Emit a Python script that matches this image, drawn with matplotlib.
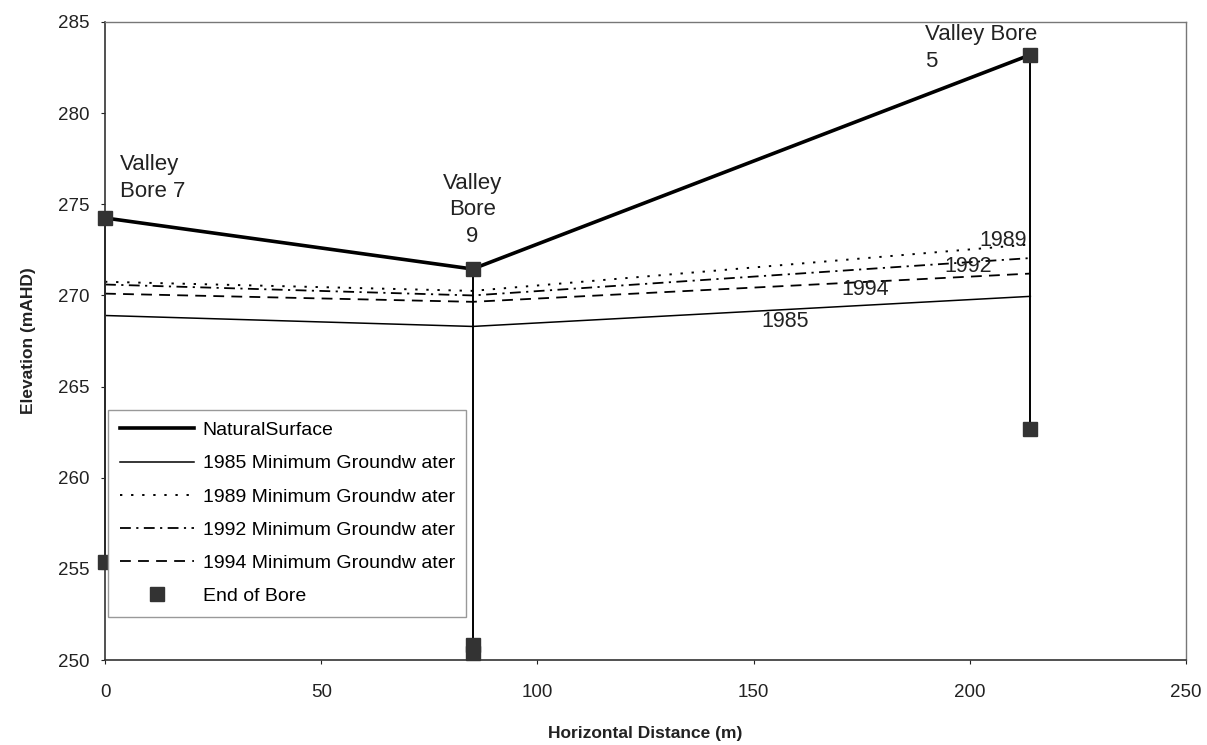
"""Valley bores cross-section: natural surface and minimum groundwater levels."""

import matplotlib
matplotlib.use("Agg")
import matplotlib.pyplot as plt

plt.rcParams["font.family"] = ["Liberation Sans", "DejaVu Sans"]

# bore positions along the section (m)
bore_x = [0, 85, 214]
bore_names = ["Valley\nBore 7", "Valley\nBore\n9", "Valley Bore\n5"]

# elevations (mAHD) at each bore
surface = [274.25, 271.45, 283.2]
gw_1985 = [268.9, 268.3, 269.95]
gw_1989 = [270.75, 270.25, 272.8]
gw_1992 = [270.6, 270.0, 272.05]
gw_1994 = [270.1, 269.65, 271.2]

# end-of-bore points (bore 9 shows two)
end_x = [0, 85, 85, 214]
end_y = [255.4, 250.8, 250.4, 262.65]

# in-chart year labels (x, y)
year_text = ["1989", "1992", "1994", "1985"]
year_x = [207.7, 199.6, 175.8, 157.3]
year_y = [273.0, 271.6, 270.3, 268.55]

mark = "#333333"

fig = plt.figure(figsize=(12.07, 7.45), dpi=100)
ax = fig.add_axes([0.087, 0.114, 0.8956, 0.8565])

# bore casings, top to bottom of each bore
bottoms = [min(y for x, y in zip(end_x, end_y) if x == bx) for bx in bore_x]
for bx, top, bot in zip(bore_x, surface, bottoms):
    ax.plot([bx, bx], [top, bot], color="black", lw=1.4, zorder=2,
            clip_on=False)
ax.plot(bore_x, surface, ls="none", marker="s", ms=10, color=mark, zorder=5,
        clip_on=False)

ax.plot(bore_x, surface, color="black", lw=2.6, label="NaturalSurface", zorder=4)
ax.plot(bore_x, gw_1985, color="black", lw=1.1,
        label="1985 Minimum Groundw ater")
ax.plot(bore_x, gw_1989, color="black", lw=1.4, ls=(0, (1.2, 4.5)),
        label="1989 Minimum Groundw ater")
ax.plot(bore_x, gw_1992, color="black", lw=1.3, ls=(0, (6, 3, 1.2, 3)),
        label="1992 Minimum Groundw ater")
ax.plot(bore_x, gw_1994, color="black", lw=1.3, ls=(0, (6, 4)),
        label="1994 Minimum Groundw ater")
ax.plot(end_x, end_y, ls="none", marker="s", ms=10, color=mark,
        label="End of Bore", zorder=5, clip_on=False)

for t, x, y in zip(year_text, year_x, year_y):
    ax.text(x, y, t, fontsize=15.5, ha="center", va="center", color="#222222")

ax.text(3.5, 276.45, bore_names[0], fontsize=16, ha="left", va="center",
        linespacing=1.35, color="#222222")
ax.text(84.9, 274.7, bore_names[1], fontsize=16, ha="center", va="center",
        linespacing=1.35, color="#222222")
ax.text(189.6, 283.57, bore_names[2], fontsize=16, ha="left", va="center",
        linespacing=1.35, color="#222222")

ax.set_xlim(0, 250)
ax.set_ylim(250, 285)
ax.set_xticks(range(0, 251, 50))
ax.set_yticks(range(250, 286, 5))
ax.tick_params(axis="x", labelsize=13.5, length=3, pad=14, colors="#222222")
ax.tick_params(axis="y", labelsize=13.5, length=3, pad=8, colors="#222222")
for side in ("left", "bottom"):
    ax.spines[side].set_color("#333333")
    ax.spines[side].set_linewidth(1.2)
for side in ("top", "right"):
    ax.spines[side].set_color("#777777")
    ax.spines[side].set_linewidth(1.0)

ax.set_xlabel("Horizontal Distance (m)", fontsize=12.5, fontweight="bold",
              labelpad=18, color="#222222")
ax.set_ylabel("Elevation (mAHD)", fontsize=12.5, fontweight="bold",
              labelpad=16, color="#222222")

leg = ax.legend(loc="upper left", bbox_to_anchor=(0.003, 0.392),
                borderaxespad=0, fontsize=14, frameon=True, fancybox=False,
                edgecolor="#999999", framealpha=1, handlelength=3.8,
                handletextpad=0.45, labelspacing=0.8, borderpad=0.6)
leg.get_frame().set_linewidth(1.0)
leg.set_zorder(6)

fig.savefig("out.png", dpi=100)
